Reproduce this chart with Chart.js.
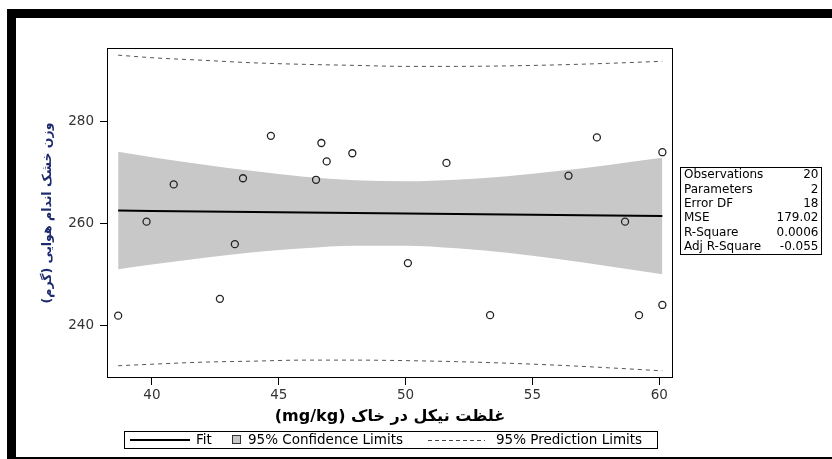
<!DOCTYPE html>
<html>
<head>
<meta charset="utf-8">
<script src="https://cdn.jsdelivr.net/npm/chart.js@4.4.1/dist/chart.umd.min.js"></script>
<style>
  html, body { margin: 0; padding: 0; background: #fff; }
  #wrap { position: relative; width: 832px; height: 459px; }
</style>
</head>
<body>
<div id="wrap"><canvas id="c" width="832" height="459"></canvas></div>
<script>
// Observations: soil nickel concentration (mg/kg) vs. shoot dry weight (g)
const obsX = [38.67, 39.79, 40.86, 42.68, 43.27, 43.59, 44.69, 46.47, 46.68, 46.89,
              47.90, 50.09, 51.61, 53.33, 56.42, 57.54, 58.65, 59.20, 60.12, 60.12];
const obsY = [242.0, 260.4, 267.7, 245.3, 256.0, 268.9, 277.2, 268.6, 275.8, 272.2,
              273.8, 252.3, 271.9, 242.1, 269.4, 276.9, 260.4, 242.1, 274.0, 244.1];

// Fitted line and limit curves, sampled along x
const curveX  = [38.67, 40, 42, 44, 46, 48, 50, 52, 54, 56, 58, 60.12];
const fitY    = [262.6, 262.5, 262.4, 262.3, 262.2, 262.1, 262.0, 261.9, 261.8, 261.7, 261.6, 261.5];
const ciUpper = [274.1, 273.0, 271.6, 270.3, 269.2, 268.5, 268.3, 268.6, 269.3, 270.3, 271.5, 272.9];
const ciLower = [251.1, 252.0, 253.3, 254.4, 255.2, 255.7, 255.7, 255.2, 254.3, 253.1, 251.7, 250.1];
const piUpper = [293.0, 292.5, 292.0, 291.5, 291.2, 291.0, 290.8, 290.8, 290.9, 291.1, 291.4, 291.8];
const piLower = [232.2, 232.5, 232.9, 233.1, 233.3, 233.3, 233.2, 233.0, 232.7, 232.3, 231.8, 231.2];

const xTicks = [40, 45, 50, 55, 60];
const yTicks = [240, 260, 280];

const statLabels = ['Observations', 'Parameters', 'Error DF', 'MSE', 'R-Square', 'Adj R-Square'];
const statValues = ['20', '2', '18', '179.02', '0.0006', '-0.055'];
const legendLabels = ['Fit', '95% Confidence Limits', '95% Prediction Limits'];

const xTitle = '(mg/kg) غلظت نیکل در خاک';
const yTitle = 'وزن خشک اندام هوایی (گرم)\u200F';

const BAND = '#c8c8c8';
const FONT = '"DejaVu Sans", "Liberation Sans", sans-serif';

const toPoints = (xs, ys) => xs.map((x, i) => ({ x, y: ys[i] }));

// Page frame, plot border, statistics inset and legend
const decor = {
  id: 'decor',
  beforeDraw(chart) {
    const ctx = chart.ctx;
    ctx.save();
    ctx.fillStyle = '#fff';
    ctx.fillRect(0, 0, chart.width, chart.height);
    ctx.restore();
  },
  afterDraw(chart) {
    const ctx = chart.ctx;
    const a = chart.chartArea;
    ctx.save();

    // outer black frame
    ctx.fillStyle = '#000';
    ctx.fillRect(7, 9, 825, 9);
    ctx.fillRect(7, 9, 9, 450);
    ctx.fillRect(7, 457, 825, 2);

    // plot border
    ctx.strokeStyle = '#000';
    ctx.lineWidth = 1;
    ctx.strokeRect(Math.round(a.left) - 0.5, Math.round(a.top) + 0.5,
                   Math.round(a.right - a.left) + 1, Math.round(a.bottom - a.top) - 1);

    // statistics inset
    const bx = 680.5, by = 167.5, bw = 141, bh = 87;
    ctx.strokeRect(bx, by, bw, bh);
    ctx.font = '12px ' + FONT;
    ctx.fillStyle = '#000';
    ctx.textBaseline = 'middle';
    statLabels.forEach((s, i) => {
      const y = by + 7.5 + i * 14.4;
      ctx.textAlign = 'left';
      ctx.fillText(s, bx + 3.5, y);
      ctx.textAlign = 'right';
      ctx.fillText(statValues[i], bx + bw - 3, y);
    });

    // legend
    const ly = 440;
    ctx.strokeRect(124.5, 431.5, 533, 17);
    ctx.strokeStyle = '#000';
    ctx.lineWidth = 2;
    ctx.beginPath(); ctx.moveTo(130, ly); ctx.lineTo(190, ly); ctx.stroke();
    ctx.font = '13.5px ' + FONT;
    ctx.textAlign = 'left';
    ctx.textBaseline = 'middle';
    ctx.fillStyle = '#000';
    ctx.fillText(legendLabels[0], 196, ly);
    ctx.fillStyle = BAND;
    ctx.fillRect(232, 435, 9, 9);
    ctx.lineWidth = 1;
    ctx.strokeStyle = '#333';
    ctx.strokeRect(232.5, 435.5, 8, 8);
    ctx.fillStyle = '#000';
    ctx.fillText(legendLabels[1], 248, ly);
    ctx.setLineDash([4, 3]);
    ctx.strokeStyle = '#444';
    ctx.beginPath(); ctx.moveTo(428, ly + 0.5); ctx.lineTo(485, ly + 0.5); ctx.stroke();
    ctx.setLineDash([]);
    ctx.fillText(legendLabels[2], 496, ly);

    ctx.restore();
  }
};

new Chart(document.getElementById('c'), {
  type: 'scatter',
  data: {
    datasets: [
      {
        label: 'Observations',
        data: toPoints(obsX, obsY),
        pointRadius: 3.5,
        pointBorderWidth: 1.3,
        pointBorderColor: '#222',
        pointBackgroundColor: 'rgba(0,0,0,0)',
        showLine: false
      },
      {
        type: 'line',
        label: legendLabels[0],
        data: toPoints(curveX, fitY),
        borderColor: '#000',
        borderWidth: 2,
        pointRadius: 0,
        fill: false
      },
      {
        type: 'line',
        label: 'Upper prediction',
        data: toPoints(curveX, piUpper),
        borderColor: '#555',
        borderWidth: 1,
        borderDash: [4, 4],
        pointRadius: 0,
        fill: false,
        cubicInterpolationMode: 'monotone'
      },
      {
        type: 'line',
        label: 'Lower prediction',
        data: toPoints(curveX, piLower),
        borderColor: '#555',
        borderWidth: 1,
        borderDash: [4, 4],
        pointRadius: 0,
        fill: false,
        cubicInterpolationMode: 'monotone'
      },
      {
        type: 'line',
        label: 'Lower confidence',
        data: toPoints(curveX, ciLower),
        borderColor: 'rgba(0,0,0,0)',
        borderWidth: 0,
        pointRadius: 0,
        fill: false,
        cubicInterpolationMode: 'monotone'
      },
      {
        type: 'line',
        label: 'Upper confidence',
        data: toPoints(curveX, ciUpper),
        borderColor: 'rgba(0,0,0,0)',
        borderWidth: 0,
        pointRadius: 0,
        backgroundColor: BAND,
        fill: '-1',
        cubicInterpolationMode: 'monotone'
      }
    ]
  },
  options: {
    responsive: false,
    animation: false,
    devicePixelRatio: 1,
    layout: { padding: { top: 48, right: 160, left: 0, bottom: 0 } },
    plugins: { legend: { display: false }, tooltip: { enabled: false } },
    scales: {
      x: {
        type: 'linear',
        min: 38.27,
        max: 60.5,
        afterBuildTicks: s => { s.ticks = xTicks.map(v => ({ value: v })); },
        afterFit: s => { s.height = 81; },
        grid: { display: true, drawOnChartArea: false, drawTicks: true, tickLength: 7, color: '#000', lineWidth: 1 },
        border: { display: false },
        ticks: { font: { family: FONT, size: 13.5 }, color: '#333', padding: 2, maxRotation: 0 },
        title: {
          display: true, text: xTitle, color: '#000',
          font: { family: FONT, size: 16, weight: 'bold' },
          padding: { top: 0, bottom: 33 }
        }
      },
      y: {
        type: 'linear',
        min: 229.8,
        max: 294.4,
        afterBuildTicks: s => { s.ticks = yTicks.map(v => ({ value: v })); },
        afterFit: s => { s.width = 108; },
        grid: { display: true, drawOnChartArea: false, drawTicks: true, tickLength: 8, color: '#000', lineWidth: 1 },
        border: { display: false },
        ticks: { font: { family: FONT, size: 13.5 }, color: '#333', padding: 6 },
        title: {
          display: true, text: yTitle, color: '#1c2a6e',
          font: { family: FONT, size: 12.5, weight: 'bold' },
          padding: { top: 40, bottom: 0 }
        }
      }
    }
  },
  plugins: [decor]
});
</script>
</body>
</html>
